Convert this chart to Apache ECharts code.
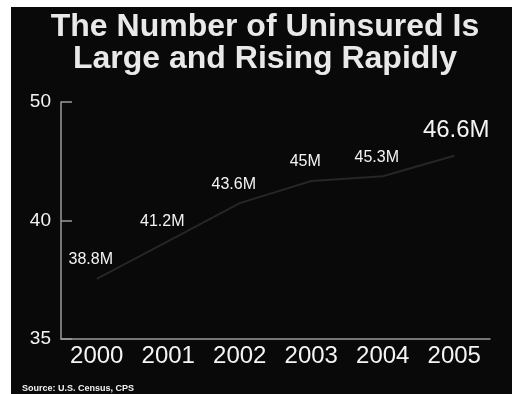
<!DOCTYPE html>
<html>
<head>
<meta charset="utf-8">
<style>
  html, body { margin: 0; padding: 0; background: #ffffff; }
  #chart { width: 516px; height: 394px; }
</style>
<script src="https://cdn.jsdelivr.net/npm/echarts@6/dist/echarts.min.js"></script>
</head>
<body>
<div id="chart"></div>
<script>
// Uninsured population, millions, by year
const years = ['2000', '2001', '2002', '2003', '2004', '2005'];
const uninsured = [38.8, 41.2, 43.6, 45, 45.3, 46.6];

// Value-axis ticks and the text shown beside them
const yTickValues = [35, 42.5, 50];
const yTickLabels = ['35', '40', '50'];

const headline = 'The Number of Uninsured Is\nLarge and Rising Rapidly';
const source = 'Source: U.S. Census, CPS';

const FONT = '"Liberation Sans", Arial, Helvetica, sans-serif';
const lastIdx = uninsured.length - 1;

const chart = echarts.init(document.getElementById('chart'), null, { renderer: 'canvas' });

chart.setOption({
  backgroundColor: '#ffffff',
  animation: false,
  graphic: [
    {
      type: 'rect',
      z: -10,
      shape: { x: 11, y: 7, width: 501, height: 387 },
      style: { fill: '#090909' }
    },
    {
      type: 'text',
      z: 10,
      x: 265,
      y: 11,
      style: {
        text: headline,
        fill: '#e9e9e9',
        font: 'bold 32px ' + FONT,
        lineHeight: 32,
        align: 'center',
        verticalAlign: 'top',
        shadowColor: 'rgba(140,140,140,0.55)',
        shadowBlur: 1,
        shadowOffsetX: 1,
        shadowOffsetY: 1
      }
    },
    {
      type: 'text',
      z: 10,
      x: 22,
      y: 389,
      style: {
        text: source,
        fill: '#f2f2f2',
        font: 'bold 9px ' + FONT,
        verticalAlign: 'middle'
      }
    }
  ],
  grid: { left: 61, right: 26, top: 102, bottom: 55 },
  xAxis: {
    type: 'category',
    data: years,
    boundaryGap: true,
    axisLine: { lineStyle: { color: '#9a9a9a', width: 1.5 } },
    axisTick: { inside: true, length: 5, lineStyle: { color: '#9a9a9a', width: 1.5 } },
    axisLabel: { color: '#f4f4f4', fontFamily: FONT, fontSize: 24, margin: 5 },
    splitLine: { show: false }
  },
  yAxis: {
    type: 'value',
    min: 35,
    max: 50,
    axisLine: { show: true, lineStyle: { color: '#9a9a9a', width: 1.5 } },
    axisTick: {
      show: true,
      inside: true,
      length: 11,
      customValues: yTickValues,
      lineStyle: { color: '#9a9a9a', width: 1.5 }
    },
    axisLabel: {
      color: '#f4f4f4',
      fontFamily: FONT,
      fontSize: 19,
      margin: 10,
      customValues: yTickValues,
      formatter: function (v) {
        const i = yTickValues.indexOf(v);
        return i >= 0 ? yTickLabels[i] : '';
      }
    },
    splitLine: { show: false }
  },
  series: [
    {
      type: 'line',
      data: uninsured.map(function (v, i) {
        return i === lastIdx
          ? { value: v, label: { fontSize: 24, distance: 13, offset: [2, 0] } }
          : v;
      }),
      symbol: 'circle',
      symbolSize: 0,
      showSymbol: true,
      itemStyle: { color: 'rgba(0,0,0,0)' },
      lineStyle: { color: '#262626', width: 2 },
      label: {
        show: true,
        position: 'top',
        distance: 10,
        offset: [-6, -1],
        color: '#f4f4f4',
        fontFamily: FONT,
        fontSize: 16,
        formatter: function (p) { return p.value + 'M'; }
      }
    }
  ]
});
</script>
</body>
</html>
